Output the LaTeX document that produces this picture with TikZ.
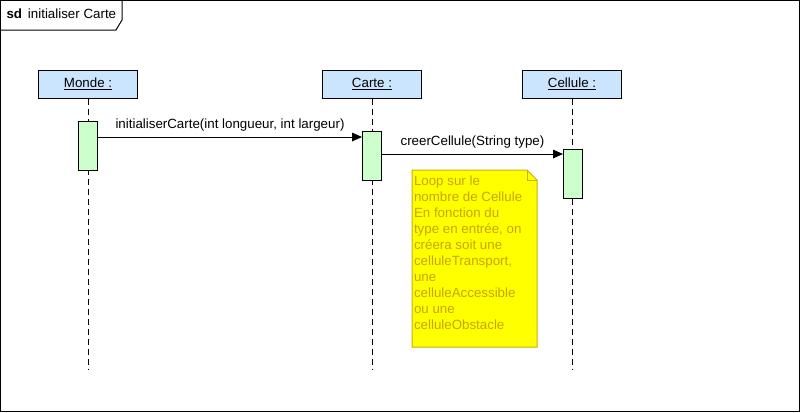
\documentclass[tikz,border=0pt]{standalone}
\usepackage{fontspec}
\setmainfont{Liberation Sans}
\usetikzlibrary{arrows.meta,shapes,positioning}
\definecolor{objblue}{HTML}{CCE5FF}
\definecolor{actgreen}{HTML}{CCFFCC}
\definecolor{noteyel}{HTML}{FFFF00}
\definecolor{notetxt}{HTML}{C8A400}
\definecolor{noteline}{HTML}{C8B000}
\tikzset{
  obj/.style={draw, fill=objblue, minimum width=74.25pt, minimum height=21pt, inner sep=0pt, font=\fontsize{10}{12}\selectfont},
  act/.style={draw, fill=actgreen, minimum width=14.25pt, minimum height=36.75pt, inner sep=0pt},
  life/.style={dash pattern=on 5pt off 2.5pt},
  msg/.style={-{Triangle[length=7.5pt,width=6.5pt]}},
  lbl/.style={font=\fontsize{10}{12}\selectfont, inner sep=0pt}
}
\begin{document}
\begin{tikzpicture}[x=0.75pt, y=-0.75pt, line width=0.75pt]
		\useasboundingbox (0,0) rectangle (800,412);
		
		% frame
		\draw (0.5,0.5) rectangle (799.5,411.5);
		\draw (0.5,30) -- (116,30) -- (122,20) -- (122,0.5);
		\node[lbl, anchor=west] (title) at (6,14) {\textbf{sd}\, initialiser Carte};
		
		% objets
		\node[obj] (monde) at (88,84) {\underline{Monde :}};
		\node[obj] (carte) at (372,84) {\underline{Carte :}};
		\node[obj] (cellule) at (572,84) {\underline{Cellule :}};
		
		\coordinate (bas) at (0,370);
		\draw[life] (monde.south) -- (monde.south |- bas);
		\draw[life] (carte.south) -- (carte.south |- bas);
		\draw[life] (cellule.south) -- (cellule.south |- bas);
		
		% activations
		\node[act] (actmonde) at (88,145.5) {};
		\node[act] (actcarte) at (372,155.5) {};
		\node[act] (actcellule) at (573,173.5) {};
		
		% messages
		\coordinate (m1) at (0,137);
		\coordinate (m2) at (0,154);
		\draw[msg] (actmonde.east |- m1) -- node[lbl, above=4pt] (msg1) {initialiserCarte(int longueur, int largeur)} (actcarte.west |- m1);
		\draw[msg] (actcarte.east |- m2) -- node[lbl, above=4pt] (msg2) {creerCellule(String type)} (actcellule.west |- m2);
		
		% note
		\draw[noteline, fill=noteyel] (412,170) -- (527,170) -- (537,180) -- (537,347) -- (412,347) -- cycle;
		\draw[noteline] (527,170) -- (527,180) -- (537,180);
		\node[anchor=north west, inner sep=0pt, text=notetxt, align=left, font=\fontsize{10}{12}\selectfont] (note) at (413.5,175)
		{Loop sur le\\nombre de Cellule\\En fonction du\\type en entrée, on\\créera soit une\\celluleTransport,\\une\\celluleAccessible\\ou une\\celluleObstacle};
		
\end{tikzpicture}
\end{document}
